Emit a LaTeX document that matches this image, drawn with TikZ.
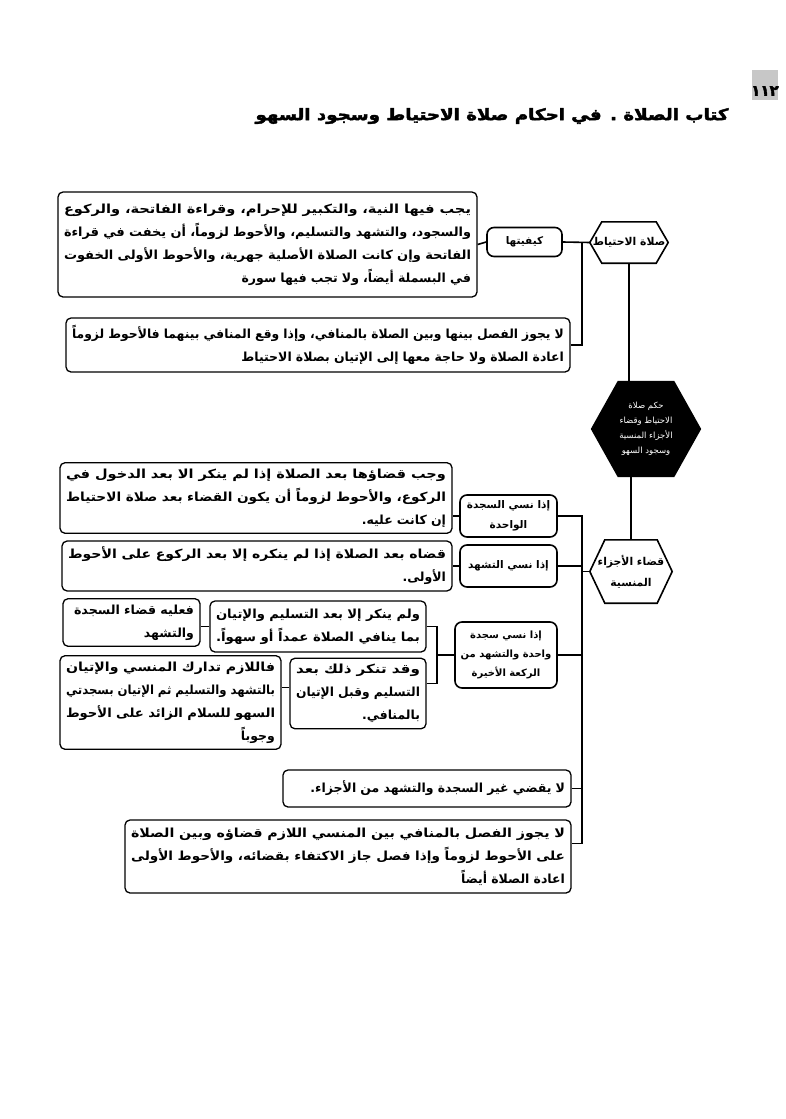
\documentclass[tikz,border=0pt]{standalone}
\usepackage{fontspec}
\usepackage{graphicx}
\newfontfamily\ar[Script=Arabic]{DejaVu Sans}
\newfontfamily\arh[Script=Arabic,FakeBold=2.5]{DejaVu Sans}
\TeXXeTstate=1
\usetikzlibrary{calc}
\newcommand\AR[1]{\beginR #1\endR}
\newcommand\FL[2]{\resizebox{#1}{\height}{#2}}
\tikzset{
  tbox/.style={draw, line width=1.3pt, rounded corners=5pt, inner sep=6pt, align=right,
    font=\ar\bfseries\fontsize{12.5}{23}\selectfont},
  lbox/.style={draw, line width=1.6pt, rounded corners=7pt, inner sep=2pt, align=center,
    font=\ar\bfseries\fontsize{10.5}{20}\selectfont},
  hexn/.style={inner sep=0pt, align=center, font=\ar\bfseries\fontsize{10.8}{21}\selectfont},
  conn/.style={line width=1.6pt},
  hexline/.style={line width=1.6pt, line join=miter},
}
\begin{document}
\begin{tikzpicture}[x=1pt,y=-1pt]
\useasboundingbox (0,0) rectangle (785,1119);
\fill[white] (0,0) rectangle (785,1119);

% header
\fill[black!22] (752,70) rectangle (778,100);
\node[inner sep=0pt, font=\arh\bfseries\fontsize{15}{15}\selectfont] (pg) at (765,91) {١١٢};
\node[inner sep=0pt] (hdr) at (492,116) {\resizebox{473pt}{12pt}{\arh\bfseries\beginR كتاب الصلاة . في احكام صلاة الاحتياط وسجود السهو\endR}};

% top section
\node[hexn, minimum width=78pt, minimum height=41pt] (h1) at (629,242.5) {\beginR صلاة الاحتياط\endR};
\draw[hexline] ([xshift=12pt]h1.north west) -- ([xshift=-12pt]h1.north east) -- (h1.east)
  -- ([xshift=-12pt]h1.south east) -- ([xshift=12pt]h1.south west) -- (h1.west) -- cycle;

\node[lbox, minimum width=75pt, minimum height=29pt] (k) at (524.5,242) {\beginR كيفيتها\endR};

\node[tbox, minimum width=419pt, minimum height=105pt, text width=407pt] (b1) at (267.5,244.5)
 {\FL{407pt}{\beginR يجب فيها النية، والتكبير للإحرام، وقراءة الفاتحة، والركوع\endR}\\
  \FL{407pt}{\beginR والسجود، والتشهد والتسليم، والأحوط لزوماً، أن يخفت في قراءة\endR}\\
  \FL{407pt}{\beginR الفاتحة وإن كانت الصلاة الأصلية جهرية، والأحوط الأولى الخفوت\endR}\\
  \beginR في البسملة أيضاً، ولا تجب فيها سورة\endR};

\node[tbox, minimum width=504pt, minimum height=54pt, text width=492pt] (b2) at (318,345)
 {\FL{492pt}{\beginR لا يجوز الفصل بينها وبين الصلاة بالمنافي، وإذا وقع المنافي بينهما فالأحوط لزوماً\endR}\\
  \beginR اعادة الصلاة ولا حاجة معها إلى الإتيان بصلاة الاحتياط\endR};

\coordinate (j1) at (582,242);
\draw[conn] (h1.west) -- (k.east);
\draw[conn] (k.west) -- (b1.east);
\draw[conn] (j1) |- (b2.east);

% black hexagon
\node[inner sep=0pt, minimum width=110pt, minimum height=96pt] (hb) at (646,429) {};
\fill[black] ([xshift=27pt]hb.north west) -- ([xshift=-27pt]hb.north east) -- (hb.east)
  -- ([xshift=-27pt]hb.south east) -- ([xshift=27pt]hb.south west) -- (hb.west) -- cycle;
\node[align=center, text=white, font=\ar\fontsize{8.5}{15}\selectfont] (hbt) at (646,429)
 {\beginR حكم صلاة\endR\\ \beginR الاحتياط وقضاء\endR\\ \beginR الأجزاء المنسية\endR\\ \beginR وسجود السهو\endR};

% second hexagon
\node[hexn, minimum width=82pt, minimum height=63pt] (h2) at (631,571.5) {\beginR قضاء الأجزاء\endR\\ \beginR المنسية\endR};
\draw[hexline] ([xshift=15pt]h2.north west) -- ([xshift=-15pt]h2.north east) -- (h2.east)
  -- ([xshift=-15pt]h2.south east) -- ([xshift=15pt]h2.south west) -- (h2.west) -- cycle;

\draw[conn] (h1.south) -- (h1.south |- hb.north);
\draw[conn] (h2.north) -- (h2.north |- hb.south);

% lower section
\node[lbox, minimum width=97pt, minimum height=42pt] (s1) at (508.5,516) {\beginR إذا نسي السجدة\endR\\ \beginR الواحدة\endR};
\node[lbox, minimum width=97pt, minimum height=42pt] (s2) at (508.5,566) {\beginR إذا نسي التشهد\endR};
\node[lbox, minimum width=102pt, minimum height=66pt, font=\ar\bfseries\fontsize{10}{19}\selectfont] (s3) at (506,655)
 {\beginR إذا نسي سجدة\endR\\ \beginR واحدة والتشهد من\endR\\ \beginR الركعة الأخيرة\endR};

\node[tbox, minimum width=392pt, minimum height=66pt, text width=380pt] (A) at (256,498)
 {\FL{380pt}{\beginR وجب قضاؤها بعد الصلاة إذا لم ينكر الا بعد الدخول في\endR}\\
  \FL{380pt}{\beginR الركوع، والأحوط لزوماً أن يكون القضاء بعد صلاة الاحتياط\endR}\\
  \beginR إن كانت عليه.\endR};

\node[tbox, minimum width=390pt, minimum height=42pt, text width=378pt] (B) at (257,566)
 {\FL{378pt}{\beginR قضاه بعد الصلاة إذا لم ينكره إلا بعد الركوع على الأحوط\endR}\\
  \beginR الأولى.\endR};

\node[tbox, minimum width=216pt, minimum height=51pt, text width=204pt] (C) at (318,626.5)
 {\FL{204pt}{\beginR ولم ينكر إلا بعد التسليم والإتيان\endR}\\
  \FL{204pt}{\beginR بما ينافي الصلاة عمداً أو سهواً.\endR}};

\node[tbox, minimum width=136pt, minimum height=65pt, text width=124pt] (D) at (358,693.5)
 {\FL{124pt}{\beginR وقد تنكر ذلك بعد\endR}\\ \FL{124pt}{\beginR التسليم وقبل الإتيان\endR}\\ \beginR بالمنافي.\endR};

\node[tbox, minimum width=137pt, minimum height=45pt, text width=125pt] (E) at (131.5,622.5)
 {\FL{120pt}{\beginR فعليه قضاء السجدة\endR}\\ \beginR والتشهد\endR};

\node[tbox, minimum width=221pt, minimum height=87pt, text width=209pt] (F) at (170.5,702.5)
 {\FL{209pt}{\beginR فاللازم تدارك المنسي والإتيان\endR}\\
  \FL{209pt}{\beginR بالتشهد والتسليم ثم الإتيان بسجدتي\endR}\\
  \FL{209pt}{\beginR السهو للسلام الزائد على الأحوط\endR}\\
  \beginR وجوباً\endR};

\node[tbox, minimum width=288pt, minimum height=37pt, text width=276pt] (G) at (427,788.5)
 {\beginR لا يقضي غير السجدة والتشهد من الأجزاء.\endR};

\node[tbox, minimum width=446pt, minimum height=73pt, text width=434pt] (H) at (348,856.5)
 {\FL{434pt}{\beginR لا يجوز الفصل بالمنافي بين المنسي اللازم قضاؤه وبين الصلاة\endR}\\
  \FL{434pt}{\beginR على الأحوط لزوماً وإذا فصل جاز الاكتفاء بقضائه، والأحوط الأولى\endR}\\
  \beginR اعادة الصلاة أيضاً\endR};

% connectors
\coordinate (t) at (582,571.5);
\draw[conn] (h2.west) -- (t);
\draw[conn] (s1.east) -| (t);
\draw[conn] (s2.east) -- (s2.east -| t);
\draw[conn] (s3.east) -- (s3.east -| t);
\draw[conn] (t) |- ([yshift=13pt]H.east);
\draw[conn] (G.east) -- (G.east -| t);
\draw[conn] (s1.west) -- (s1.west -| A.east);
\draw[conn] (s2.west) -- (s2.west -| B.east);

\coordinate (br) at (437,655);
\draw[conn] (s3.west) -- (br);
\draw[conn] (C.east) -| (br);
\draw[conn] ([yshift=10pt]D.east) -| (br);
\draw[conn] (C.west) -- (C.west -| E.east);
\draw[conn] ([yshift=6pt]D.west) -- ([yshift=6pt]D.west -| F.east);
\end{tikzpicture}
\end{document}
